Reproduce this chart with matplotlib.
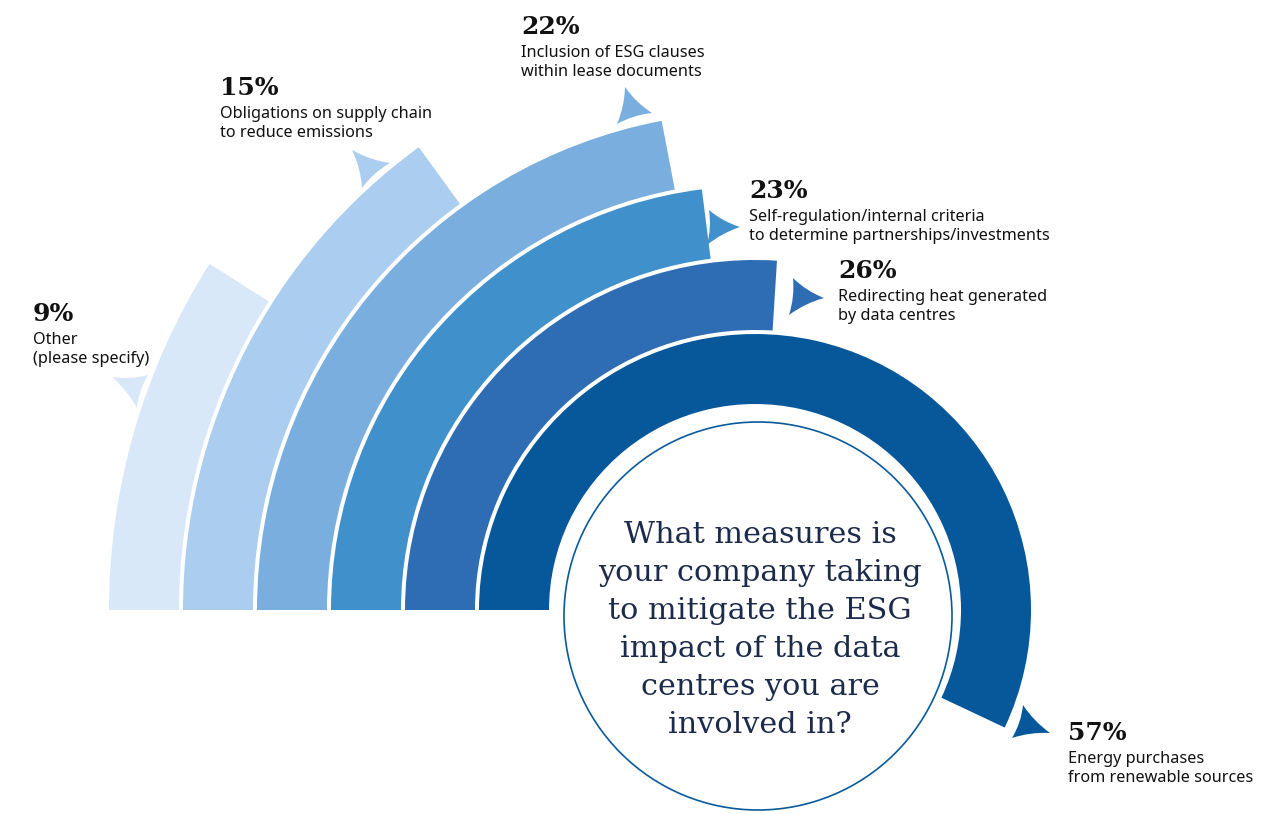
import matplotlib.pyplot as plt
from matplotlib.patches import Wedge, Circle, PathPatch
from matplotlib.path import Path

# survey answers, innermost ring first
values = [57, 26, 23, 22, 15, 9]
labels = [
    ["Energy purchases", "from renewable sources"],
    ["Redirecting heat generated", "by data centres"],
    ["Self-regulation/internal criteria", "to determine partnerships/investments"],
    ["Inclusion of ESG clauses", "within lease documents"],
    ["Obligations on supply chain", "to reduce emissions"],
    ["Other", "(please specify)"],
]
question = [
    "What measures is",
    "your company taking",
    "to mitigate the ESG",
    "impact of the data",
    "centres you are",
    "involved in?",
]

colors = ["#06589b", "#2e6db4", "#4090cc", "#7aaedf", "#abcdef", "#d9e8f8"]

# layout in pixels (y measured from the top)
W, H = 1283, 814
cx, cy = 755, 610
r0, step, band = 276, 74, 70
label_pos = [(1068, 740), (838, 278), (749, 198), (521, 34), (220, 95), (33, 321)]
pointers = [
    [(1023, 705), (1050, 733), (1012, 738)],
    [(793, 278), (824, 298), (789, 315)],
    [(709, 210), (740, 227), (707, 245)],
    [(625, 87), (652, 113), (617, 124)],
    [(352, 150), (390, 163), (362, 188)],
    [(112, 377), (148, 375), (137, 408)],
]

navy = "#1c2b4b"
serif = ["DejaVu Serif"]
sans = ["Noto Sans", "DejaVu Sans"]


def py(y):
    return H - y


def pointer(ax, pts, color, bow=0.35):
    # curved triangle with the sides pulled in towards the middle
    pts = [(x, py(y)) for x, y in pts]
    mx = sum(p[0] for p in pts) / 3
    my = sum(p[1] for p in pts) / 3
    verts, codes = [pts[0]], [Path.MOVETO]
    for i in range(3):
        a, b = pts[i], pts[(i + 1) % 3]
        hx, hy = (a[0] + b[0]) / 2, (a[1] + b[1]) / 2
        verts += [(hx + bow * (mx - hx), hy + bow * (my - hy)), b]
        codes += [Path.CURVE3, Path.CURVE3]
    ax.add_patch(PathPatch(Path(verts, codes), fc=color, ec="none", zorder=2))


fig = plt.figure(figsize=(W / 100, H / 100), dpi=100)
ax = fig.add_axes([0, 0, 1, 1])
ax.set_xlim(0, W)
ax.set_ylim(0, H)
ax.set_aspect("equal")
ax.axis("off")

for i, v in enumerate(values):
    outer = r0 + step * i
    ax.add_patch(Wedge((cx, py(cy)), outer, 180 - 3.6 * v, 180,
                       width=band, fc=colors[i], ec="none", zorder=1))
    pointer(ax, pointers[i], colors[i])

    lx, ly = label_pos[i]
    ax.text(lx, py(ly), f"{v}%", family=serif, fontsize=18, fontweight="bold",
            color="#111111", ha="left", va="baseline")
    for k, line in enumerate(labels[i]):
        ax.text(lx, py(ly + 23 + 19 * k), line, family=sans, fontsize=11.7,
                color="#111111", ha="left", va="baseline")

# question in the middle
ax.add_patch(Circle((758, py(616)), 194, fc="white", ec="#0a5a9c", lw=1.2, zorder=3))
for k, line in enumerate(question):
    ax.text(760, py(543 + 38 * k), line, family=serif, fontsize=21.8,
            color=navy, ha="center", va="baseline", zorder=4)

fig.savefig("out.png", dpi=100)
